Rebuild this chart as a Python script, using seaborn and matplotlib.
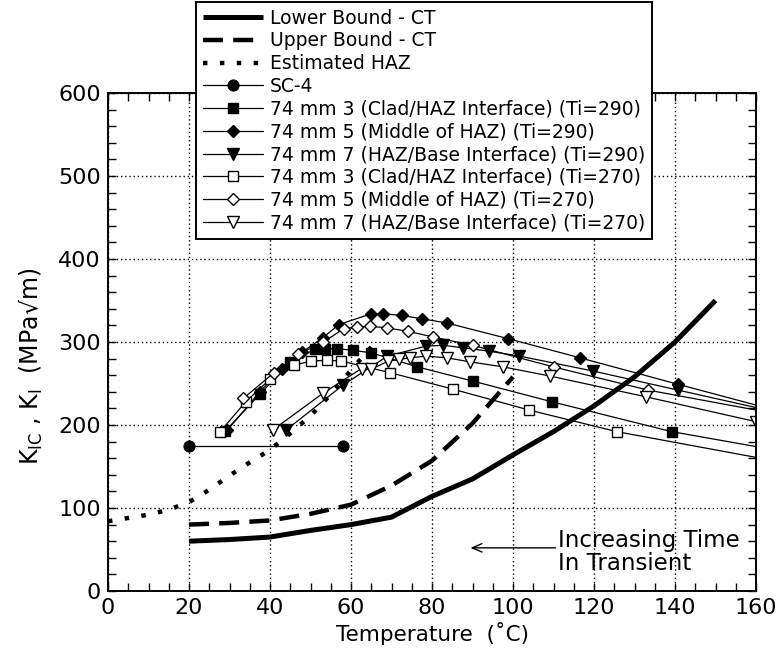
import matplotlib
matplotlib.use("Agg")
import matplotlib.pyplot as plt
import seaborn as sns
from matplotlib.ticker import MultipleLocator

# ---------------- data ----------------
lower_x = [20, 30, 40, 50, 60, 70, 72, 80, 90, 100, 110, 120, 130, 140, 150]
lower_y = [60, 62, 65, 73, 80, 89, 94, 114, 135, 164, 192, 223, 258, 300, 350]

upper_x = [20, 30, 40, 50, 60, 70, 80, 90, 100]
upper_y = [80, 82, 85, 93, 104, 127, 157, 202, 258]

haz_x = [0, 5, 10, 15, 20, 25, 30, 35, 40, 45, 50, 55, 60, 65]
haz_y = [84, 88, 92, 98, 107, 122, 139, 155, 170, 190, 211, 237, 266, 294]

sc4_x = [20, 58]
sc4_y = [175, 175]

s3_290_x = [29, 37.5, 45, 51, 53.6, 56.5, 60.4, 65, 76.4, 90, 109.6, 139.2, 160]
s3_290_y = [193, 237, 276, 291, 292, 292, 290, 287, 270, 253, 228, 192, 174]

s5_290_x = [29.5, 37.5, 43, 48, 53, 57, 65, 68, 72.5, 77.5, 83.6, 98.8, 116.5, 140.8, 160]
s5_290_y = [194, 240, 268, 288, 305, 321, 334, 334, 332, 328, 323, 304, 281, 249, 224]

s7_290_x = [44, 58, 69, 78.5, 82.8, 87.7, 94, 101.6, 119.8, 140.8, 160]
s7_290_y = [194, 248, 283, 295, 296, 293, 289, 283, 265, 242, 221]

s3_270_x = [27.7, 34, 40, 46, 50, 54, 57.6, 69.7, 85.3, 104, 125.6, 160]
s3_270_y = [192, 228, 255, 272, 277, 278, 277, 263, 243, 218, 192, 161]

s5_270_x = [33.4, 41, 47, 53.2, 58.2, 61.4, 64.8, 68.8, 74, 80.3, 90, 110, 133.4, 160]
s5_270_y = [232, 263, 285, 300, 316, 318, 319, 317, 313, 306, 296, 270, 242, 218]

s7_270_x = [40.7, 53, 62.6, 64.9, 69.2, 71.9, 74.6, 78.5, 83.6, 89.5, 97.6, 109.1, 132.8, 160]
s7_270_y = [194, 238, 268, 267, 277, 279, 281, 283, 281, 276, 270, 259, 234, 204]

labels = ["Lower Bound - CT", "Upper Bound - CT", "Estimated HAZ", "SC-4",
          "74 mm 3 (Clad/HAZ Interface) (Ti=290)",
          "74 mm 5 (Middle of HAZ) (Ti=290)",
          "74 mm 7 (HAZ/Base Interface) (Ti=290)",
          "74 mm 3 (Clad/HAZ Interface) (Ti=270)",
          "74 mm 5 (Middle of HAZ) (Ti=270)",
          "74 mm 7 (HAZ/Base Interface) (Ti=270)"]

x_ticks = [0, 20, 40, 60, 80, 100, 120, 140, 160]
y_ticks = [0, 100, 200, 300, 400, 500, 600]

# ---------------- style ----------------
sns.set_style("ticks")
plt.rcParams['font.family'] = ['DejaVu Sans']
plt.rcParams['mathtext.default'] = 'regular'
for key in ['text.color', 'axes.labelcolor', 'xtick.color', 'ytick.color',
            'axes.edgecolor']:
    plt.rcParams[key] = 'black'

fig = plt.figure(figsize=(7.84, 6.59), dpi=100)
ax = fig.add_axes([108/784, 1-591/659, (756-108)/784, (591-93)/659])

K = "black"
common = dict(ax=ax, color=K, estimator=None, sort=False)

sns.lineplot(x=lower_x, y=lower_y, lw=3.6, label=labels[0], solid_capstyle='butt', **common)
sns.lineplot(x=upper_x, y=upper_y, lw=3.2, linestyle=(0, (4.5, 2.3)),
             dash_capstyle='butt', label=labels[1], **common)
sns.lineplot(x=haz_x, y=haz_y, lw=3.2, linestyle=(0, (1.0, 2.8)),
             dash_capstyle='butt', label=labels[2], **common)
sns.lineplot(x=sc4_x, y=sc4_y, lw=0.9, marker='o', ms=8, mfc=K, mec=K,
             label=labels[3], **common)

def series(xs, ys, marker, filled, ms, label, last_mark=False):
    n = len(xs)
    me = list(range(n)) if last_mark else list(range(n - 1))
    sns.lineplot(x=xs, y=ys, lw=0.9, marker=marker, ms=ms,
                 mfc=K if filled else 'white', mec=K, mew=1.0,
                 markevery=me, label=label, **common)

series(s3_290_x, s3_290_y, 's', True, 7, labels[4])
series(s5_290_x, s5_290_y, 'D', True, 6, labels[5])
series(s7_290_x, s7_290_y, 'v', True, 8, labels[6])
series(s3_270_x, s3_270_y, 's', False, 7, labels[7])
series(s5_270_x, s5_270_y, 'D', False, 6, labels[8])
series(s7_270_x, s7_270_y, 'v', False, 8, labels[9], last_mark=True)

# ---------------- axes ----------------
ax.set_xlim(0, 160)
ax.set_ylim(0, 600)
ax.set_xticks(x_ticks)
ax.set_yticks(y_ticks)
ax.xaxis.set_minor_locator(MultipleLocator(5))
ax.yaxis.set_minor_locator(MultipleLocator(20))
ax.tick_params(which='both', direction='in', top=True, right=True,
               length=5.5, width=1.0, color=K, labelcolor=K, labelsize=16, pad=5)
ax.grid(True, which='major', color=K, linestyle=(0, (1, 2)), lw=1.0)
for s in ax.spines.values():
    s.set_visible(True)
    s.set_color(K)
    s.set_linewidth(1.4)

ax.set_xlabel("Temperature  (\u02daC)", fontsize=15.5, labelpad=3, color=K)
ax.set_ylabel("K$_{IC}$ , K$_{I}$  (MPa\u221am)", fontsize=17, color=K)
ax.yaxis.set_label_coords(-0.097, 0.452)

# annotation
ax.annotate("", xy=(89.5, 52), xytext=(110.5, 52),
            arrowprops=dict(arrowstyle='->,head_length=0.7,head_width=0.3',
                            color=K, lw=1.0, shrinkA=0, shrinkB=0))
ax.text(111, 47, "Increasing Time\nIn Transient", fontsize=16.5, color=K,
        ha='left', va='center', linespacing=1.05)

# legend
ax.get_legend().remove()
handles, labs = ax.get_legend_handles_labels()
leg = fig.legend(handles, labs, loc='upper left',
                 bbox_to_anchor=(196/784, 1 - 2/659), borderaxespad=0,
                 fontsize=13.5, frameon=True, fancybox=False, framealpha=1,
                 edgecolor=K, labelspacing=0.2, handlelength=3.2,
                 handletextpad=0.4, borderpad=0.35)
leg.get_frame().set_linewidth(1.4)
leg.set_zorder(10)
for t in leg.get_texts():
    t.set_color(K)

fig.savefig("out.png", dpi=100)
